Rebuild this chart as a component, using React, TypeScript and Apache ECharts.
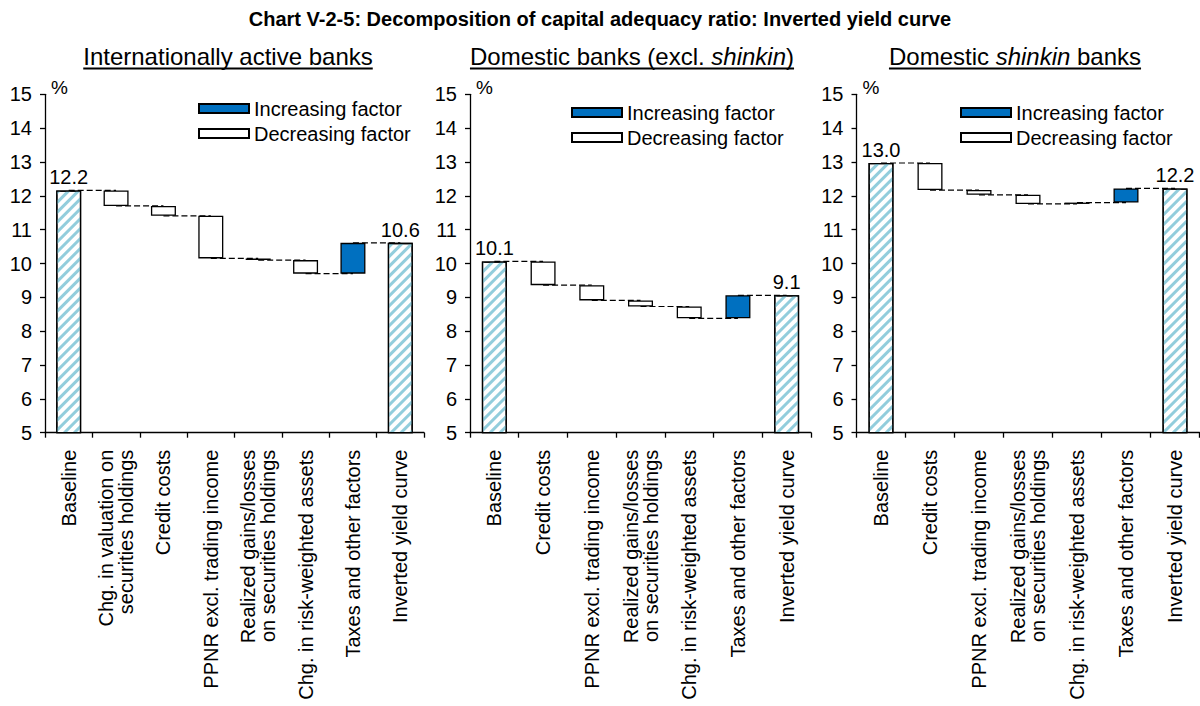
import React, { useEffect, useRef } from 'react';
import * as echarts from 'echarts';

const FONT = '"Liberation Sans", Arial, Helvetica, sans-serif';

const chartTitle = 'Chart V-2-5: Decomposition of capital adequacy ratio: Inverted yield curve';
const legendNames = ['Increasing factor', 'Decreasing factor'];

const intlCategories = [
  'Baseline',
  'Chg. in valuation on\nsecurities holdings',
  'Credit costs',
  'PPNR excl. trading income',
  'Realized gains/losses\non securities holdings',
  'Chg. in risk-weighted assets',
  'Taxes and other factors',
  'Inverted yield curve',
];
const domCategories = [
  'Baseline',
  'Credit costs',
  'PPNR excl. trading income',
  'Realized gains/losses\non securities holdings',
  'Chg. in risk-weighted assets',
  'Taxes and other factors',
  'Inverted yield curve',
];
const shinkinCategories = domCategories;

// percent
const intlBaseline = 12.16;
const intlFactors = [-0.46, -0.29, -1.26, -0.05, -0.4, 0.91];
const intlResult = 10.61;

const domBaseline = 10.06;
const domFactors = [-0.7, -0.45, -0.18, -0.35, 0.68];
const domResult = 9.06;

const shinkinBaseline = 12.97;
const shinkinFactors = [-0.8, -0.14, -0.27, 0.04, 0.42];
const shinkinResult = 12.22;

const yMin = 5;
const yMax = 15;
const yStep = 1;

const BLUE = '#0070C0';
const HATCH = '#92CDDC';

function measure(text: string, font: string): number {
  const c = document.createElement('canvas');
  const ctx = c.getContext('2d');
  if (!ctx) return text.length * 10;
  ctx.font = font;
  return ctx.measureText(text).width;
}

function panel(idx: number, cats: string[], start: number, factors: number[], end: number, legendPos: { left: number; top: number }) {
  const lv: number[] = [start];
  factors.forEach((f, k) => lv.push(lv[k] + f));
  const base: (number | string)[] = [0, ...factors.map((f, k) => Math.min(lv[k], lv[k + 1])), 0];
  const inc: (number | string)[] = ['-', ...factors.map((f) => (f > 0 ? f : '-')), '-'];
  const dec: (number | string)[] = ['-', ...factors.map((f) => (f < 0 ? -f : '-')), '-'];
  const tot: (number | string)[] = [start, ...factors.map(() => '-'), end];
  const conn = lv.map((v, j) => [j, v]);
  const stack = 'p' + idx;
  const barCommon = {
    type: 'bar',
    stack,
    xAxisIndex: idx,
    yAxisIndex: idx,
    barWidth: 25,
    z: 3,
  };
  const series: any[] = [
    {
      ...barCommon,
      name: 'base' + idx,
      data: base,
      itemStyle: { color: 'rgba(0,0,0,0)', borderWidth: 0 },
      silent: true,
    },
    {
      ...barCommon,
      name: legendNames[0],
      data: inc,
      itemStyle: { color: BLUE, borderColor: '#000', borderWidth: 1.3 },
    },
    {
      ...barCommon,
      name: legendNames[1],
      data: dec,
      itemStyle: { color: '#fff', borderColor: '#000', borderWidth: 1.3 },
    },
    {
      ...barCommon,
      name: 'total' + idx,
      data: tot,
      itemStyle: {
        color: '#fff',
        borderColor: '#000',
        borderWidth: 1.3,
        decal: {
          symbol: 'rect',
          symbolSize: 1,
          color: HATCH,
          dashArrayX: [1, 0],
          dashArrayY: [3, 3.5],
          rotation: -Math.PI / 4,
        },
      },
      label: {
        show: true,
        position: 'top',
        distance: 3,
        color: '#000',
        fontSize: 20,
        fontFamily: FONT,
        formatter: (p: any) => Number(p.value).toFixed(1),
      },
    },
    {
      type: 'custom',
      name: 'conn' + idx,
      xAxisIndex: idx,
      yAxisIndex: idx,
      z: 1,
      silent: true,
      data: conn.slice(0, cats.length - 1),
      encode: { x: 0, y: 1 },
      renderItem: (params: any, api: any) => {
        const i = api.value(0);
        const v = api.value(1);
        const p1 = api.coord([i, v]);
        const p2 = api.coord([i + 1, v]);
        return {
          type: 'line',
          shape: { x1: p1[0], y1: p1[1], x2: p2[0], y2: p2[1] },
          style: { stroke: '#000', lineWidth: 1.2, lineDash: [6, 3] },
        };
      },
    },
  ];
  const xAxis = {
    type: 'category',
    gridIndex: idx,
    data: cats,
    axisLine: { lineStyle: { color: '#000', width: 1.3 } },
    axisTick: { show: true, length: 5, lineStyle: { color: '#000', width: 1.3 } },
    axisLabel: { interval: 0, rotate: 90, fontSize: 20, color: '#000', fontFamily: FONT, margin: 17 },
  };
  const yAxis = {
    type: 'value',
    gridIndex: idx,
    min: yMin,
    max: yMax,
    interval: yStep,
    name: '%',
    nameLocation: 'end',
    nameGap: -3,
    nameTextStyle: { color: '#000', fontSize: 19, fontFamily: FONT, align: 'left', padding: [0, 0, 0, 6] },
    splitLine: { show: false },
    axisLine: { show: true, lineStyle: { color: '#000', width: 1.3 } },
    axisTick: { show: true, length: 5, lineStyle: { color: '#000', width: 1.3 } },
    axisLabel: { fontSize: 20, color: '#000', fontFamily: FONT, margin: 13 },
  };
  const legend = {
    data: legendNames,
    orient: 'vertical',
    left: legendPos.left,
    top: legendPos.top,
    padding: 0,
    itemWidth: 50,
    itemHeight: 9,
    itemGap: 5,
    icon: 'rect',
    selectedMode: false,
    textStyle: { fontSize: 20, color: '#000', fontFamily: FONT },
  };
  return { series, xAxis, yAxis, legend };
}

export default function App() {
  const ref = useRef<HTMLDivElement>(null);
  useEffect(() => {
    if (!ref.current) return;
    const chart = echarts.init(ref.current, undefined, { renderer: 'svg' });
    const p1 = panel(0, intlCategories, intlBaseline, intlFactors, intlResult, { left: 198, top: 98.5 });
    const p2 = panel(1, domCategories, domBaseline, domFactors, domResult, { left: 571, top: 102.5 });
    const p3 = panel(2, shinkinCategories, shinkinBaseline, shinkinFactors, shinkinResult, { left: 960, top: 102.5 });

    const subFont = `24px ${FONT}`;
    const subFontIt = `italic 24px ${FONT}`;
    const subY = 56;
    const ulY = 68.5;
    const subs = [
      { cx: 228, parts: [{ t: 'Internationally active banks', it: false }] },
      { cx: 632, parts: [{ t: 'Domestic banks (excl. ', it: false }, { t: 'shinkin', it: true }, { t: ')', it: false }] },
      { cx: 1015, parts: [{ t: 'Domestic ', it: false }, { t: 'shinkin', it: true }, { t: ' banks', it: false }] },
    ];
    const graphics: any[] = [
      {
        type: 'text',
        x: 600,
        y: 19,
        style: {
          text: chartTitle,
          fontSize: 20,
          fontWeight: 'bold',
          fontFamily: FONT,
          fill: '#000',
          align: 'center',
          verticalAlign: 'middle',
        },
      },
    ];
    subs.forEach((s) => {
      const w = s.parts.reduce((a, p) => a + measure(p.t, p.it ? subFontIt : subFont), 0);
      const rich = s.parts.map((p) => `{${p.it ? 'i' : 'n'}|${p.t}}`).join('');
      graphics.push({
        type: 'text',
        x: s.cx,
        y: subY,
        style: {
          text: rich,
          align: 'center',
          verticalAlign: 'middle',
          rich: {
            n: { fontSize: 24, fontFamily: FONT, fill: '#000', color: '#000' },
            i: { fontSize: 24, fontFamily: FONT, fontStyle: 'italic', fill: '#000', color: '#000' },
          },
        },
      });
      graphics.push({
        type: 'line',
        shape: { x1: s.cx - w / 2, y1: ulY, x2: s.cx + w / 2, y2: ulY },
        style: { stroke: '#000', lineWidth: 2 },
      });
    });

    chart.setOption({
      animation: false,
      backgroundColor: '#fff',
      textStyle: { fontFamily: FONT },
      grid: [
        { left: 45, top: 94.3, width: 379, height: 338.4 },
        { left: 470, top: 94.3, width: 341, height: 338.4 },
        { left: 856.5, top: 94.3, width: 343, height: 338.4 },
      ],
      xAxis: [p1.xAxis, p2.xAxis, p3.xAxis],
      yAxis: [p1.yAxis, p2.yAxis, p3.yAxis],
      legend: [p1.legend, p2.legend, p3.legend],
      series: [...p1.series, ...p2.series, ...p3.series],
      graphic: graphics,
    });
    return () => chart.dispose();
  }, []);
  return <div ref={ref} style={{ position: 'absolute', left: 0, top: 0, width: 1200, height: 706 }} />;
}
